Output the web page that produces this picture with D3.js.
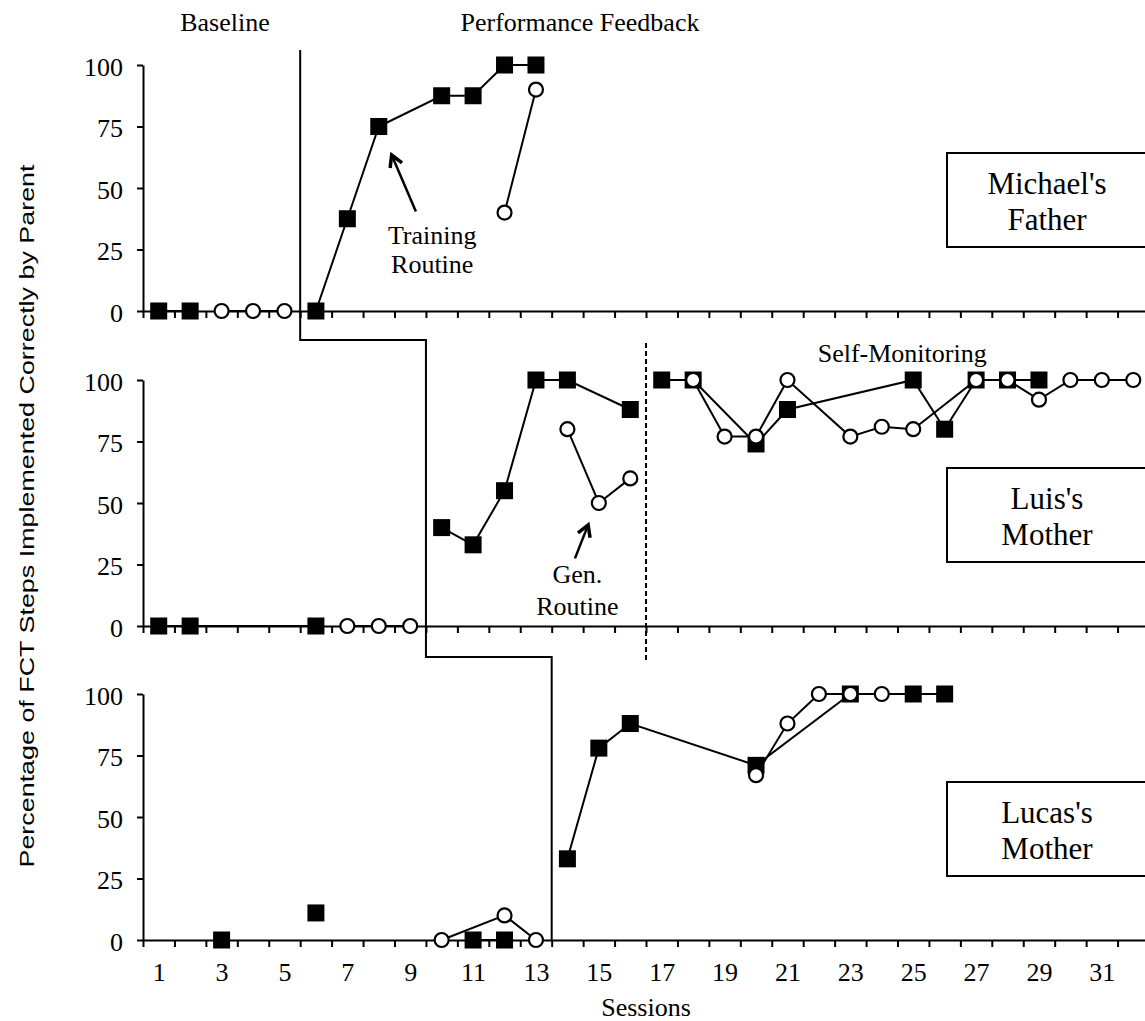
<!DOCTYPE html>
<html>
<head>
<meta charset="utf-8">
<script src="https://cdn.jsdelivr.net/npm/d3@7"></script>
<style>
  body { margin: 0; background: #fff; }
  text { font-family: "Liberation Serif", "Times New Roman", serif; fill: #000; }
</style>
</head>
<body>
<svg id="chart"></svg>
<script>
// each series is a list of runs: [sessions, values]; points in one run are joined
const michaelTraining = [
  [[1, 2], [0, 0]],
  [[6, 7, 8, 10, 11, 12, 13], [0, 37.5, 75, 87.5, 87.5, 100, 100]]
];
const michaelGen = [
  [[3, 4, 5], [0, 0, 0]],
  [[12, 13], [40, 90]]
];

const luisTraining = [
  [[1, 2, 6], [0, 0, 0]],
  [[10, 11, 12, 13, 14, 16], [40, 33, 55, 100, 100, 88]],
  [[17, 18, 20, 21, 25, 26, 27, 28, 29], [100, 100, 74, 88, 100, 80, 100, 100, 100]]
];
const luisGen = [
  [[7, 8, 9], [0, 0, 0]],
  [[14, 15, 16], [80, 50, 60]],
  [[18, 19, 20, 21, 23, 24, 25, 27, 28, 29, 30, 31, 32], [100, 77, 77, 100, 77, 81, 80, 100, 100, 92, 100, 100, 100]]
];

const lucasTraining = [
  [[3], [0]],
  [[6], [11]],
  [[11, 12], [0, 0]],
  [[14, 15, 16, 20, 23, 25, 26], [33, 78, 88, 71, 100, 100, 100]]
];
const lucasGen = [
  [[10, 12, 13], [0, 10, 0]],
  [[20, 21, 22, 23, 24], [67, 88, 100, 100, 100]]
];

const panelNames = [["Michael's", "Father"], ["Luis's", "Mother"], ["Lucas's", "Mother"]];
const yTicks = [0, 25, 50, 75, 100];
const sessionLabels = d3.range(1, 32, 2);
const sessionTicks = d3.range(0.5, 32.5, 1);
const phaseChanges = [5.5, 9.5, 13.5];

const svg = d3.select("#chart").attr("width", 1145).attr("height", 1021);

const x = d3.scaleLinear().domain([0.5, 32.5]).range([143, 1149]);
const panelTops = [65, 380, 694];
const panelH = 246;
const ys = panelTops.map(t => d3.scaleLinear().domain([0, 100]).range([t + panelH, t]));

const panels = [
  [michaelTraining, michaelGen],
  [luisTraining, luisGen],
  [lucasTraining, lucasGen]
];

function styleAxis(g) {
  g.selectAll("path, line").attr("stroke", "#000").attr("stroke-width", 2);
  g.selectAll("text").attr("font-family", "Liberation Serif").attr("font-size", 26).attr("fill", "#000");
}

const line = d3.line().x(d => x(d[0])).y(d => d[1]);

panels.forEach((series, i) => {
  const y = ys[i];
  const g = svg.append("g");

  g.append("g")
    .attr("transform", `translate(0,${y(0)})`)
    .call(d3.axisBottom(x).tickValues(sessionTicks).tickFormat("").tickSize(7).tickSizeOuter(0))
    .call(styleAxis);

  g.append("g")
    .attr("transform", `translate(${x(0.5)},0)`)
    .call(d3.axisLeft(y).tickValues(yTicks).tickSize(6).tickSizeOuter(0).tickPadding(14))
    .call(styleAxis)
    .call(a => a.selectAll("text").attr("dy", "0.4em"));

  // lines first, then squares, then circles on top
  series.forEach(runs => {
    runs.forEach(([ss, vs]) => {
      if (ss.length < 2) return;
      const pts = ss.map((s, k) => [s, y(vs[k])]);
      g.append("path").attr("d", line(pts))
        .attr("fill", "none").attr("stroke", "#000").attr("stroke-width", 2);
    });
  });

  const sq = series[0].flatMap(([ss, vs]) => ss.map((s, k) => [s, vs[k]]));
  g.selectAll("rect.sq").data(sq).join("rect")
    .attr("class", "sq")
    .attr("x", d => x(d[0]) - 8.5).attr("y", d => y(d[1]) - 8.5)
    .attr("width", 17).attr("height", 17).attr("fill", "#000");

  const ci = series[1].flatMap(([ss, vs]) => ss.map((s, k) => [s, vs[k]]));
  g.selectAll("circle").data(ci).join("circle")
    .attr("cx", d => x(d[0])).attr("cy", d => y(d[1])).attr("r", 7)
    .attr("fill", "#fff").attr("stroke", "#000").attr("stroke-width", 2.2);

  // participant box
  const boxTop = y(0) - 158;
  g.append("rect").attr("x", 947).attr("y", boxTop).attr("width", 300).attr("height", 94)
    .attr("fill", "#fff").attr("stroke", "#000").attr("stroke-width", 2);
  g.append("text").attr("x", 1047).attr("y", boxTop + 40.5).attr("text-anchor", "middle")
    .attr("font-size", 31).text(panelNames[i][0]);
  g.append("text").attr("x", 1047).attr("y", boxTop + 77).attr("text-anchor", "middle")
    .attr("font-size", 31).text(panelNames[i][1]);
});

// session numbers under the bottom panel
svg.append("g")
  .attr("transform", `translate(0,${ys[2](0)})`)
  .call(d3.axisBottom(x).tickValues(sessionLabels).tickSize(0).tickPadding(23))
  .call(styleAxis)
  .call(g => g.select(".domain").remove());

// phase change line (stepped)
const stepPts = [
  [x(phaseChanges[0]), 50],
  [x(phaseChanges[0]), ys[0](0) + 29],
  [x(phaseChanges[1]), ys[0](0) + 29],
  [x(phaseChanges[1]), ys[1](0) + 31],
  [x(phaseChanges[2]), ys[1](0) + 31],
  [x(phaseChanges[2]), ys[2](0)]
];
svg.append("path").attr("d", d3.line()(stepPts))
  .attr("fill", "none").attr("stroke", "#000").attr("stroke-width", 2);

// self-monitoring dashed line in Luis's panel
svg.append("line")
  .attr("x1", x(16.5)).attr("x2", x(16.5))
  .attr("y1", ys[1](100) - 37).attr("y2", ys[1](0) + 37)
  .attr("stroke", "#000").attr("stroke-width", 2).attr("stroke-dasharray", "5,3");

// annotations
svg.append("text").attr("x", 225).attr("y", 31).attr("text-anchor", "middle").attr("font-size", 26).text("Baseline");
svg.append("text").attr("x", 580).attr("y", 31).attr("text-anchor", "middle").attr("font-size", 26).text("Performance Feedback");
svg.append("text").attr("x", x(24.65)).attr("y", ys[1](107.3)).attr("text-anchor", "middle").attr("font-size", 26).text("Self-Monitoring");

svg.append("text").attr("x", x(9.7)).attr("y", ys[0](27.4)).attr("text-anchor", "middle").attr("font-size", 26).text("Training");
svg.append("text").attr("x", x(9.7)).attr("y", ys[0](15.3)).attr("text-anchor", "middle").attr("font-size", 26).text("Routine");
svg.append("text").attr("x", x(14.32)).attr("y", ys[1](17.4)).attr("text-anchor", "middle").attr("font-size", 26).text("Gen.");
svg.append("text").attr("x", x(14.32)).attr("y", ys[1](4.5)).attr("text-anchor", "middle").attr("font-size", 26).text("Routine");

function arrow(x1, y1, x2, y2) {
  // from tail (x1,y1) to tip (x2,y2), open V head
  const a = Math.atan2(y2 - y1, x2 - x1);
  const len = 13, spread = Math.PI / 6;
  const h1 = [x2 - len * Math.cos(a - spread), y2 - len * Math.sin(a - spread)];
  const h2 = [x2 - len * Math.cos(a + spread), y2 - len * Math.sin(a + spread)];
  svg.append("path").attr("d", `M${x1},${y1}L${x2},${y2}`)
    .attr("stroke", "#000").attr("stroke-width", 2.5).attr("fill", "none");
  svg.append("path").attr("d", `M${h1[0]},${h1[1]}L${x2},${y2}L${h2[0]},${h2[1]}`)
    .attr("stroke", "#000").attr("stroke-width", 3.5).attr("fill", "none");
}
arrow(x(9.18), ys[0](40.4), x(8.41), ys[0](63.4));
arrow(x(14.24), ys[1](27.5), x(14.66), ys[1](41.1));

// axis titles
svg.append("text").attr("x", x(16.5)).attr("y", 1016).attr("text-anchor", "middle").attr("font-size", 26).text("Sessions");
svg.append("text")
  .attr("transform", "translate(34,516) rotate(-90)")
  .attr("text-anchor", "middle")
  .style("font-family", "'Liberation Sans', Arial, sans-serif")
  .attr("font-size", 21)
  .attr("textLength", 703).attr("lengthAdjust", "spacingAndGlyphs")
  .text("Percentage of FCT Steps Implemented Correctly by Parent");
</script>
</body>
</html>
